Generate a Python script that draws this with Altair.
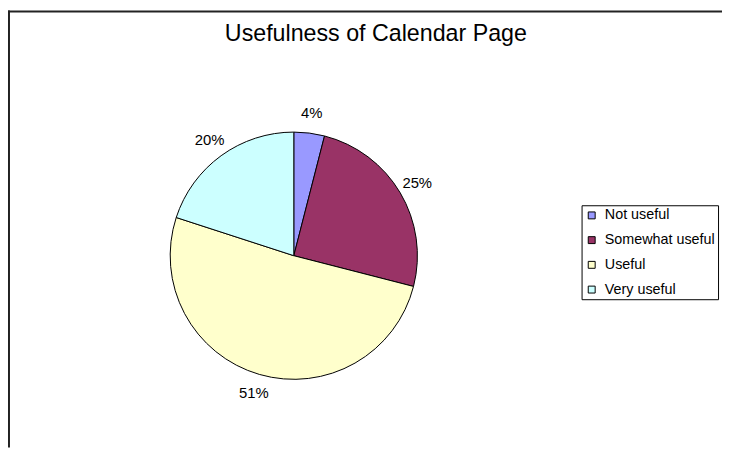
import altair as alt
import pandas as pd

categories = ["Not useful", "Somewhat useful", "Useful", "Very useful"]
values = [4, 25, 51, 20]
labels = ["4%", "25%", "51%", "20%"]
colors = ["#9999FF", "#993366", "#FFFFCC", "#CCFFFF"]
chart_title = "Usefulness of Calendar Page"

df = pd.DataFrame({"category": categories, "value": values, "label": labels,
                   "order": list(range(len(categories)))})

CX, CY, R = 289, 248, 125
W, H = 722, 442

base = alt.Chart(df).encode(
    theta=alt.Theta("value:Q", stack=True),
    order=alt.Order("order:Q"),
)

pie = base.mark_arc(outerRadius=R, stroke="black", strokeWidth=1).encode(
    x=alt.value(CX), y=alt.value(CY),
    color=alt.Color(
        "category:N",
        sort=categories,
        scale=alt.Scale(domain=categories, range=colors),
        legend=alt.Legend(
            title=None, orient="none", legendX=580, legendY=197,
            symbolType="square", symbolSize=49, symbolStrokeColor="black",
            symbolStrokeWidth=1, labelFont="Liberation Sans", labelFontSize=14.5,
            labelColor="black", rowPadding=10, padding=3, labelOffset=6,
            strokeColor="black", fillColor="white",
            labelLimit=300,
        ),
    ),
)

text = base.mark_text(radius=145, font="Liberation Sans", fontSize=15, color="black").encode(
    x=alt.value(CX), y=alt.value(CY), text="label:N"
)

title = alt.Chart(pd.DataFrame({"t": [chart_title]})).mark_text(
    font="Liberation Sans", fontSize=23.5, color="black", baseline="alphabetic"
).encode(x=alt.value(372), y=alt.value(31), text="t:N")

frame_top = alt.Chart(pd.DataFrame({"a": [0]})).mark_rule(color="#222", strokeWidth=2).encode(
    x=alt.value(0), x2=alt.value(W), y=alt.value(1)
)
frame_left = alt.Chart(pd.DataFrame({"a": [0]})).mark_rule(color="#222", strokeWidth=2).encode(
    x=alt.value(1), y=alt.value(0), y2=alt.value(H)
)

chart = alt.layer(frame_top, frame_left, pie, text, title).properties(
    width=W, height=H, padding=0, autosize=alt.AutoSizeParams(type="none"),
    background="white",
).configure_view(strokeWidth=0)

chart.save("out.html", embed_options={"renderer": "svg", "actions": False})
